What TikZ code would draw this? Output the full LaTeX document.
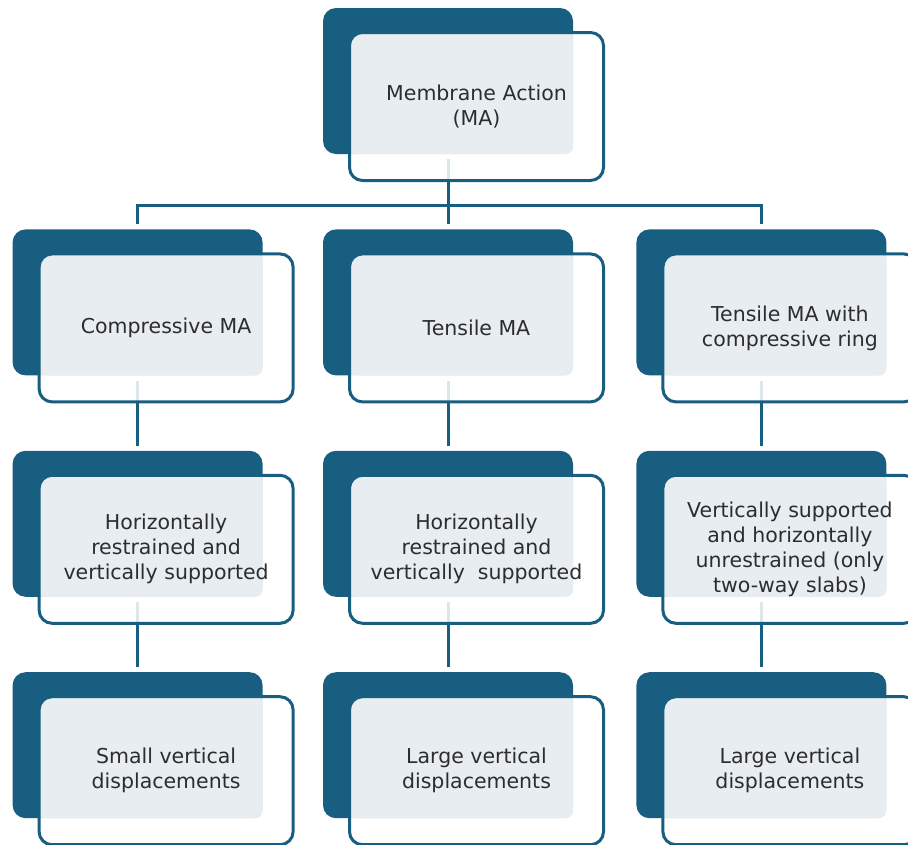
\documentclass[tikz,border=0pt]{standalone}
\usepackage{fontspec}
\setmainfont{DejaVu Sans}
\definecolor{MAblue}{RGB}{23,94,128}
\definecolor{MAmist}{RGB}{231,237,241}
\definecolor{MAtext}{RGB}{45,45,45}
\usetikzlibrary{positioning, calc, backgrounds}

\begin{document}
\begin{tikzpicture}[x=1pt, y=1pt,
    backbox/.style={
        rectangle, rounded corners=13pt, fill=MAblue, inner sep=0pt,
        minimum width=250pt, minimum height=146pt},
    frontbox/.style={
        rectangle, rounded corners=13pt, draw=MAblue, line width=3pt,
        fill=white, fill opacity=0.85, text opacity=1, inner sep=0pt,
        minimum width=254pt, minimum height=148pt,
        align=center, text=MAtext, font=\fontsize{20.5}{25}\selectfont,
        path picture={\fill[MAmist, fill opacity=1, rounded corners=8pt]
          (path picture bounding box.north west) rectangle (#1.south east);}},
    link/.style={draw=MAblue, line width=3pt}]
  \useasboundingbox (0,0) rectangle (908,-844);
  % Back plates
  \node[backbox] (ma-bk) at (448,-81) {};
  \node[backbox, below=75pt of ma-bk]  (ten-bk) {};
  \node[backbox, left=60pt of ten-bk]  (cmp-bk) {};
  \node[backbox, right=63pt of ten-bk] (tmr-bk) {};
  \node[backbox, below=75pt of cmp-bk] (sup1-bk) {};
  \node[backbox, below=75pt of ten-bk] (sup2-bk) {};
  \node[backbox, below=75pt of tmr-bk] (sup3-bk) {};
  \node[backbox, below=75pt of sup1-bk] (dis1-bk) {};
  \node[backbox, below=75pt of sup2-bk] (dis2-bk) {};
  \node[backbox, below=75pt of sup3-bk] (dis3-bk) {};
  % Front cards
  \node[frontbox=ma-bk]   (ma)   at ([shift={(28.5,-25.5)}]ma-bk.center)   {Membrane Action\\(MA)};
  \node[frontbox=cmp-bk]  (cmp)  at ([shift={(28.5,-25.5)}]cmp-bk.center)  {Compressive MA};
  \node[frontbox=ten-bk]  (ten)  at ([shift={(28.5,-25.5)}]ten-bk.center)  {Tensile MA};
  \node[frontbox=tmr-bk]  (tmr)  at ([shift={(28.5,-25.5)}]tmr-bk.center)  {Tensile MA with\\compressive ring};
  \node[frontbox=sup1-bk] (sup1) at ([shift={(28.5,-25.5)}]sup1-bk.center) {Horizontally\\restrained and\\vertically supported};
  \node[frontbox=sup2-bk] (sup2) at ([shift={(28.5,-25.5)}]sup2-bk.center) {Horizontally\\restrained and\\vertically\ \ supported};
  \node[frontbox=sup3-bk] (sup3) at ([shift={(28.5,-25.5)}]sup3-bk.center) {Vertically supported\\and horizontally\\unrestrained (only\\two-way slabs)};
  \node[frontbox=dis1-bk] (dis1) at ([shift={(28.5,-25.5)}]dis1-bk.center) {Small vertical\\displacements};
  \node[frontbox=dis2-bk] (dis2) at ([shift={(28.5,-25.5)}]dis2-bk.center) {Large vertical\\displacements};
  \node[frontbox=dis3-bk] (dis3) at ([shift={(28.5,-25.5)}]dis3-bk.center) {Large vertical\\displacements};
  % Connectors
  \begin{pgfonlayer}{background}
    \coordinate (bus) at ([yshift=-51pt]ma-bk.south);
    \draw[link] ([yshift=-5pt]ma-bk.south) -- (bus);
    \draw[link] ([yshift=5pt]cmp-bk.north) |- (bus) -| ([yshift=5pt]tmr-bk.north);
    \draw[link] (bus) -- ([yshift=5pt]ten-bk.north);
    \foreach \a/\b in {cmp-bk/sup1-bk, ten-bk/sup2-bk, tmr-bk/sup3-bk,
                       sup1-bk/dis1-bk, sup2-bk/dis2-bk, sup3-bk/dis3-bk}
      \draw[link] ([yshift=-5pt]\a.south) -- ([yshift=5pt]\b.north);
  \end{pgfonlayer}
\end{tikzpicture}
\end{document}
